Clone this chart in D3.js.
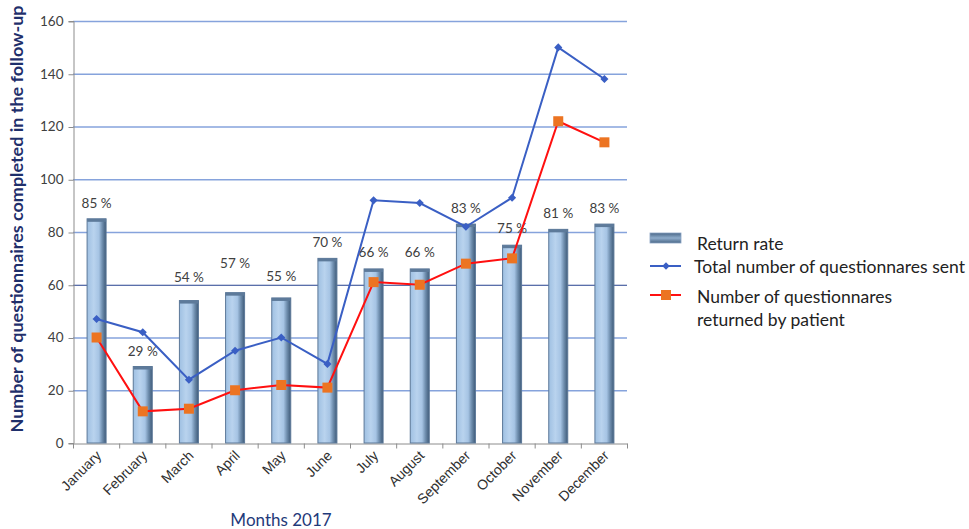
<!DOCTYPE html>
<html><head><meta charset="utf-8">
<script src="https://cdn.jsdelivr.net/npm/d3@7/dist/d3.min.js"></script>
<style>
html,body{margin:0;padding:0;background:#fff;}
svg{display:block;font-family:Lato, "Open Sans", sans-serif;}
</style></head>
<body>
<svg id="chart" width="969" height="529"></svg>
<script>
const months = ["January","February","March","April","May","June","July","August","September","October","November","December"];
const returnRate = [85,29,54,57,55,70,66,66,83,75,81,83];
const totalSent = [47,42,24,35,40,30,92,91,82,93,150,138];
const returned = [40,12,13,20,22,21,61,60,68,70,122,114];
const yTicks = [0,20,40,60,80,100,120,140,160];
// layout: extra lift of a few percent labels (px)
const labelLift = [0,0,8,14,6,0,1,1,0,1,0,0];

const svg = d3.select("#chart");
const m = {left:73, right:627, top:21, bottom:443};
const x = d3.scaleBand().domain(months).range([m.left, m.right]).paddingInner(0).paddingOuter(0);
const y = d3.scaleLinear().domain([0,160]).range([m.bottom, m.top]);

const defs = svg.append("defs");
const g = defs.append("linearGradient").attr("id","barGrad").attr("x1","0").attr("x2","1").attr("y1","0").attr("y2","0");
g.append("stop").attr("offset","0").attr("stop-color","#9fc0e2");
g.append("stop").attr("offset","0.35").attr("stop-color","#b9d3ee");
g.append("stop").attr("offset","0.62").attr("stop-color","#a6c4e4");
g.append("stop").attr("offset","0.8").attr("stop-color","#6f8eae");
g.append("stop").attr("offset","1").attr("stop-color","#3e5a78");
const lg = defs.append("linearGradient").attr("id","legGrad").attr("x1","0").attr("x2","0").attr("y1","0").attr("y2","1");
lg.append("stop").attr("offset","0").attr("stop-color","#4a6787");
lg.append("stop").attr("offset","0.5").attr("stop-color","#8eaccb");
lg.append("stop").attr("offset","1").attr("stop-color","#4a6787");

// gridlines
svg.append("g").selectAll("line").data(yTicks.filter(d=>d>0)).join("line")
  .attr("x1", m.left).attr("x2", m.right)
  .attr("y1", d=>y(d)+0.5).attr("y2", d=>y(d)+0.5)
  .attr("stroke", d=> d===60 ? "#24408f" : "#86a3dc")
  .attr("stroke-width", d=> d===60 ? 1 : 1.6);

// y axis
const yAxis = d3.axisLeft(y).tickValues(yTicks).tickSize(5).tickPadding(5);
const ya = svg.append("g").attr("transform",`translate(${m.left+0.5},0)`).call(yAxis);
ya.select(".domain").attr("stroke","#8c8c8c");
ya.selectAll(".tick line").attr("stroke","#8c8c8c").attr("transform","translate(0,0.5)");
ya.selectAll(".tick text").attr("font-size",13.5).attr("fill","#404040").attr("font-family","Lato, sans-serif");

// x axis
const xa = svg.append("g").attr("transform",`translate(0,${m.bottom+0.5})`)
  .call(d3.axisBottom(x).tickSize(0).tickPadding(0));
xa.select(".domain").attr("stroke","#8c8c8c");
xa.selectAll(".tick text").remove();
const bounds = months.map(d=>x(d)).concat([m.right]);
xa.selectAll(".bt").data(bounds).join("line").attr("class","bt")
  .attr("x1",d=>d+0.5).attr("x2",d=>d+0.5).attr("y1",0).attr("y2",5).attr("stroke","#8c8c8c");
xa.selectAll(".lbl").data(months).join("text").attr("class","lbl")
  .attr("transform", d=>`translate(${x(d)+x.bandwidth()/2+6},${13}) rotate(-45)`)
  .attr("text-anchor","end").attr("font-size",14).attr("fill","#303030")
  .text(d=>d);

// bars
const bw = 19;
svg.append("g").selectAll("rect").data(months).join("rect")
  .attr("x", (d)=>x(d)+x.bandwidth()/2-bw/2+0.5)
  .attr("width", bw)
  .attr("y", (d,i)=>y(returnRate[i]))
  .attr("height", (d,i)=>m.bottom - y(returnRate[i]))
  .attr("fill","url(#barGrad)")
  .attr("stroke","#5c7898").attr("stroke-width",1);
svg.append("g").selectAll("rect").data(months).join("rect")
  .attr("x", (d)=>x(d)+x.bandwidth()/2-bw/2+0.5)
  .attr("width", bw).attr("height",3)
  .attr("y", (d,i)=>y(returnRate[i]))
  .attr("fill","#5d7a9a");

// bar labels
svg.append("g").selectAll("text").data(months).join("text")
  .attr("x", d=>x(d)+x.bandwidth()/2+0.5)
  .attr("y", (d,i)=>y(returnRate[i]) - 11 - labelLift[i])
  .attr("text-anchor","middle").attr("font-size",13.5).attr("fill","#404040")
  .text((d,i)=>returnRate[i]+" %");

const cx = d=>x(d)+x.bandwidth()/2+0.5;
// blue line
const lineB = d3.line().x((d,i)=>cx(months[i])).y(d=>y(d));
svg.append("path").datum(totalSent).attr("d", lineB).attr("fill","none")
  .attr("stroke","#3a5fc4").attr("stroke-width",2);
svg.append("g").selectAll("path").data(totalSent).join("path")
  .attr("d", d3.symbol(d3.symbolDiamond2, 42))
  .attr("transform",(d,i)=>`translate(${cx(months[i])},${y(d)})`)
  .attr("fill","#3a5fc4");
// red line
svg.append("path").datum(returned).attr("d", lineB).attr("fill","none")
  .attr("stroke","#ff1010").attr("stroke-width",2);
svg.append("g").selectAll("rect").data(returned).join("rect")
  .attr("x",(d,i)=>cx(months[i])-5).attr("y",d=>y(d)-5)
  .attr("width",10).attr("height",10).attr("fill","#ec7422");

// axis titles
svg.append("text").attr("transform","translate(23,219) rotate(-90)")
  .attr("text-anchor","middle").attr("font-size",17).attr("font-weight","bold")
  .attr("textLength",427).attr("lengthAdjust","spacingAndGlyphs")
  .attr("fill","#1f2f6b").text("Number of questionnaires completed in the follow-up");
svg.append("text").attr("x",281).attr("y",526).attr("text-anchor","middle")
  .attr("font-size",17).attr("fill","#1f3a7a").text("Months 2017");

// legend
const L = svg.append("g");
const lf = 17.5;
L.append("rect").attr("x",650).attr("y",233).attr("width",31).attr("height",10)
  .attr("fill","url(#legGrad)").attr("stroke","#8aa4c4").attr("stroke-width",0.8);
L.append("text").attr("x",697).attr("y",250).attr("font-size",lf).attr("fill","#222").text("Return rate");
L.append("line").attr("x1",650).attr("x2",681).attr("y1",266).attr("y2",266).attr("stroke","#3a5fc4").attr("stroke-width",2);
L.append("path").attr("d", d3.symbol(d3.symbolDiamond2, 36)).attr("transform","translate(666,266)").attr("fill","#3a5fc4");
L.append("text").attr("x",694).attr("y",273).attr("font-size",lf).attr("fill","#222")
  .attr("textLength",271).attr("lengthAdjust","spacingAndGlyphs").text("Total number of questionnares sent");
L.append("line").attr("x1",650).attr("x2",681).attr("y1",295).attr("y2",295).attr("stroke","#ff1010").attr("stroke-width",2);
L.append("rect").attr("x",661).attr("y",290).attr("width",10).attr("height",10).attr("fill","#ec7422");
L.append("text").attr("x",697).attr("y",303).attr("font-size",lf).attr("fill","#222").text("Number of questionnares");
L.append("text").attr("x",697).attr("y",326).attr("font-size",lf).attr("fill","#222").text("returned by patient");
</script>
</body></html>
